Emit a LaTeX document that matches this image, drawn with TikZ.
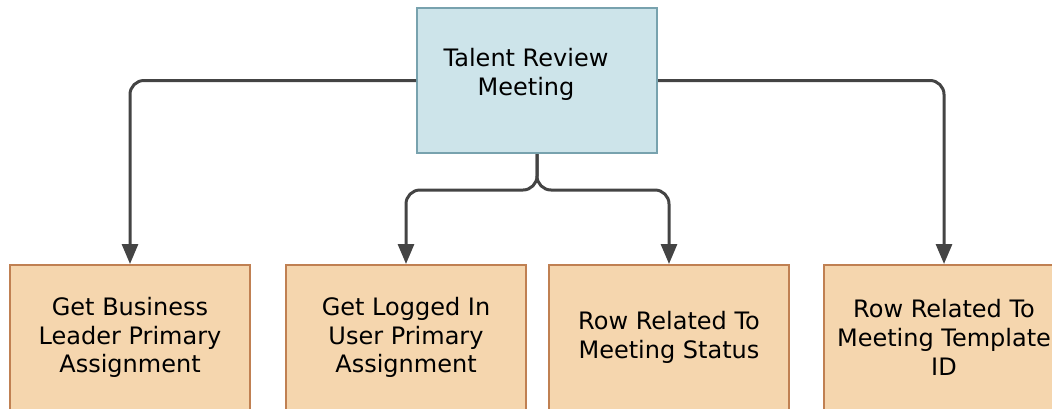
\documentclass[tikz,border=0pt]{standalone}
\usepackage{fontspec}
\setmainfont{DejaVu Sans}
\usetikzlibrary{arrows.meta}
\definecolor{topfill}{RGB}{205,228,234}
\definecolor{topborder}{RGB}{120,162,174}
\definecolor{leaffill}{RGB}{245,214,174}
\definecolor{leafborder}{RGB}{192,128,82}
\definecolor{conncolor}{RGB}{68,68,68}
\begin{document}
\begin{tikzpicture}[x=0.5pt,y=-0.5pt,
  boxbase/.style={line width=1pt, minimum width=120pt, minimum height=72.5pt, inner sep=0pt, align=center, font=\fontsize{12}{14.4}\selectfont},
  topbox/.style={boxbase, draw=topborder, fill=topfill},
  leafbox/.style={boxbase, draw=leafborder, fill=leaffill},
  labeltext/.style={align=center, inner sep=0pt, font=\fontsize{12}{14.4}\selectfont},
  conn/.style={draw=conncolor, line width=1.5pt, rounded corners=7pt, -{Triangle[width=8pt,length=10pt]}}]
\useasboundingbox (0,0) rectangle (1052,408);
\clip (0,0) rectangle (1052,408);
\node[topbox] (top) at (537,80.5) {};
\node[labeltext] (toptext) at (526,74) {Talent Review\\Meeting};
\node[leafbox] (l1) at (130,337.5) {Get Business\\Leader Primary\\Assignment};
\node[leafbox] (l2) at (406,337.5) {Get Logged In\\User Primary\\Assignment};
\node[leafbox] (l3) at (669,337.5) {Row Related To\\Meeting Status};
\node[leafbox] (l4) at (944,337.5) {Row Related To\\Meeting Template\\ID};
\draw[conn] (top.west) -| (l1.north);
\draw[conn] (top.east) -| (l4.north);
\draw[conn] (top.south) -- ++(0,36) -| (l2.north);
\draw[conn] (top.south) -- ++(0,36) -| (l3.north);
\end{tikzpicture}
\end{document}
